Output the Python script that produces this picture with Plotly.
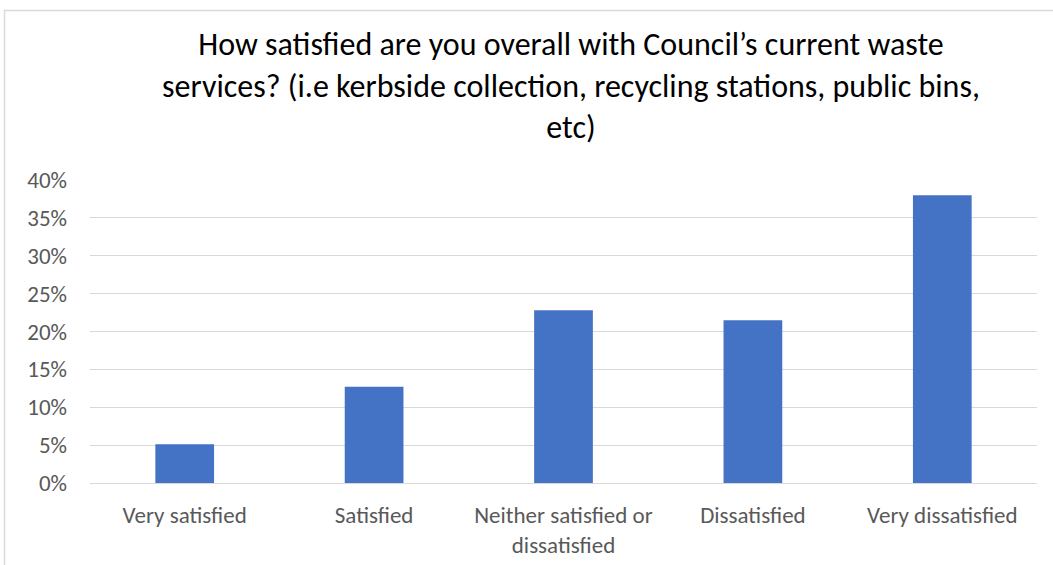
import plotly.graph_objects as go

categories = ["Very satisfied", "Satisfied", "Neither satisfied or<br>dissatisfied",
              "Dissatisfied", "Very dissatisfied"]
shares = [0.051, 0.127, 0.228, 0.215, 0.380]
y_ticks = [0, 0.05, 0.10, 0.15, 0.20, 0.25, 0.30, 0.35, 0.40]
title_text = ("How satisfied are you overall with Council’s current waste<br>"
              "services? (i.e kerbside collection, recycling stations, public bins,<br>"
              "etc)")

W, H = 1053, 565
L, R, T, B = 90, 16, 180, 82
plot_w = W - L - R
plot_h = H - T - B

def px_to_paper_x(px):
    return (px - L) / plot_w

def px_to_paper_y(py):
    return (H - B - py) / plot_h

font_family = "Carlito, Lato, Liberation Sans, sans-serif"

fig = go.Figure(go.Bar(
    x=categories,
    y=shares,
    marker=dict(color="#4472c4", line=dict(width=0)),
    width=0.31,
))

fig.update_layout(
    width=W, height=H,
    margin=dict(l=L, r=R, t=T, b=B, autoexpand=False),
    paper_bgcolor="white",
    plot_bgcolor="white",
    font=dict(family=font_family, color="#595959", size=23),
    title=dict(
        text=title_text,
        font=dict(family=font_family, size=32, color="#000000"),
        x=571 / W, xanchor="center",
        y=1 - 55 / H, yanchor="middle",
        xref="container", yref="container",
    ),
    showlegend=False,
    shapes=[dict(
        type="rect", xref="paper", yref="paper",
        x0=px_to_paper_x(4.5), x1=px_to_paper_x(1060),
        y0=px_to_paper_y(580), y1=px_to_paper_y(10.5),
        line=dict(color="#d9d9d9", width=1.5),
        fillcolor="rgba(0,0,0,0)", layer="below",
    )],
)

fig.update_xaxes(
    automargin=False,
    showgrid=False,
    showline=True, linecolor="#d9d9d9", linewidth=1,
    ticks="", ticklabelstandoff=11,
    tickfont=dict(size=23, color="#595959"),
)

fig.update_yaxes(
    automargin=False,
    range=[0, 0.4],
    tickvals=y_ticks,
    tickformat=".0%",
    showgrid=True, gridcolor="#d9d9d9", gridwidth=1,
    zeroline=False, showline=False,
    ticks="", ticklabelstandoff=22,
    tickfont=dict(size=23, color="#595959"),
)

fig.write_html("out.html")
